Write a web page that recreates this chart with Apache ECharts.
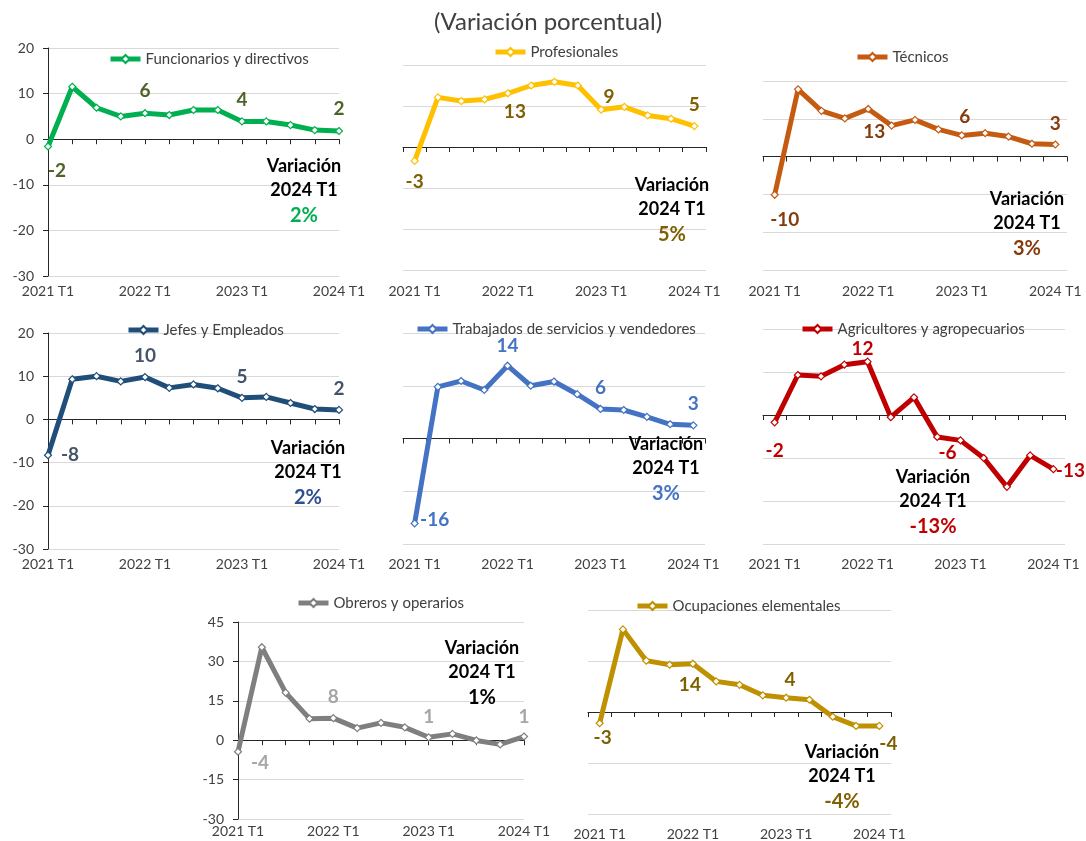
<!DOCTYPE html>
<html>
<head>
<meta charset="utf-8">
<title>Variación porcentual</title>
<script src="https://cdn.jsdelivr.net/npm/echarts@6/dist/echarts.min.js"></script>
<style>
  html, body { margin: 0; padding: 0; background: #fff; }
  #chart { width: 1086px; height: 841px; }
</style>
</head>
<body>
<div id="chart"></div>
<script>
// trimestres
const quarters = ['2021 T1', '2021 T2', '2021 T3', '2021 T4', '2022 T1', '2022 T2', '2022 T3',
  '2022 T4', '2023 T1', '2023 T2', '2023 T3', '2023 T4', '2024 T1'];

// variación porcentual por grupo ocupacional
const funcionarios = [-1.6, 11.5, 6.9, 5.0, 5.7, 5.3, 6.4, 6.4, 3.9, 3.9, 3.1, 2.0, 1.8];
const profesionales = [-3.4, 12.1, 11.2, 11.6, 13.1, 15.0, 15.9, 15.0, 9.1, 9.8, 7.7, 6.9, 5.1];
const tecnicos = [-10.1, 17.8, 12.1, 10.1, 12.6, 8.2, 9.7, 7.2, 5.6, 6.2, 5.3, 3.4, 3.2];
const jefes = [-8.3, 9.3, 10.0, 8.8, 9.8, 7.3, 8.1, 7.2, 5.0, 5.2, 3.8, 2.4, 2.2];
const servicios = [-16.1, 9.8, 10.9, 9.2, 13.8, 10.0, 10.8, 8.4, 5.6, 5.4, 4.1, 2.7, 2.5];
const agricultores = [-1.7, 9.3, 9.0, 11.7, 12.4, -0.5, 4.1, -5.1, -5.9, -10.0, -16.7, -9.4, -12.6];
const obreros = [-4.4, 35.4, 18.1, 8.2, 8.4, 4.6, 6.6, 4.9, 1.1, 2.4, -0.1, -1.6, 1.4];
const elementales = [-3.3, 24.3, 15.1, 13.9, 14.2, 9.0, 8.0, 4.9, 4.2, 3.6, -1.4, -4.1, -4.1];

// puntos con etiqueta (T1 de cada año)
const labelIdx = [0, 4, 8, 12];

const FONT = 'Lato, "Noto Sans", sans-serif';
const TEXT = '#404040';
const AXIS = '#262626';

// grid: [left, top, width, height], y: [min, max, interval]
const panels = [
  { name: 'Funcionarios y directivos', data: funcionarios, color: '#00B050', lbl: '#4F6228', pct: '#00B050',
    grid: [48, 48, 291, 228], y: [-30, 20, 10], axis: true, gap: false, xm: 8,
    legend: [108, 59], off: [[9, 24], [0, -22], [0, -22], [0, -22]], note: [304, 166] },
  { name: 'Profesionales', data: profesionales, color: '#FFC000', lbl: '#7F6000', pct: '#7F6000',
    grid: [403, 65, 303, 205], y: [-30, 20, 10], axis: false, gap: true, xm: 14,
    legend: [493, 52], off: [[0, 21], [7, 19], [8, -13], [0, -21]], note: [672, 185] },
  { name: 'Técnicos', data: tecnicos, color: '#C55A11', lbl: '#843C0C', pct: '#843C0C',
    grid: [763, 81, 304, 189], y: [-30, 20, 10], axis: false, gap: true, xm: 14,
    legend: [855, 57], off: [[10, 25], [6, 23], [3, -19], [0, -21]], note: [1027, 199] },
  { name: 'Jefes y Empleados', data: jefes, color: '#1F4E79', lbl: '#44546A', pct: '#2F4F8F',
    grid: [48, 333, 291, 216], y: [-30, 20, 10], axis: true, gap: false, xm: 8,
    legend: [126, 330], off: [[22, 0], [0, -21], [0, -21], [0, -21]], note: [308, 448] },
  { name: 'Trabajados de servicios y vendedores', data: servicios, color: '#4472C4', lbl: '#4472C4', pct: '#4472C4',
    grid: [403, 333, 302, 211], y: [-20, 20, 10], axis: false, gap: true, xm: 13,
    legend: [415, 329], off: [[20, -4], [0, -20], [0, -21], [0, -21]], note: [666, 444] },
  { name: 'Agricultores y agropecuarios', data: agricultores, color: '#C00000', lbl: '#C00000', pct: '#C00000',
    grid: [763, 329, 302, 215], y: [-30, 20, 10], axis: false, gap: true, xm: 13,
    legend: [800, 329], off: [[0, 29], [-5, -13], [-13, 13], [17, 2]], note: [933, 477] },
  { name: 'Obreros y operarios', data: obreros, color: '#7F7F7F', lbl: '#A6A6A6', pct: '#000000',
    grid: [238, 622, 286, 197], y: [-30, 45, 15], axis: true, gap: false, xm: 5,
    legend: [296, 603], off: [[22, 11], [0, -21], [0, -20], [0, -20]], note: [482, 648] },
  { name: 'Ocupaciones elementales', data: elementales, color: '#BF9000', lbl: '#7F6000', pct: '#7F6000',
    grid: [588, 610, 303, 204], y: [-30, 30, 15], axis: false, gap: true, xm: 13,
    legend: [635, 606], off: [[3, 15], [-3, 21], [4, -18], [9, 18]], note: [842, 752] }
];

const option = {
  animation: false,
  textStyle: { fontFamily: FONT },
  grid: [], xAxis: [], yAxis: [], series: [], legend: [],
  graphic: [{
    type: 'text', x: 548, y: 22, z: 10,
    style: { text: '(Variación porcentual)', fill: TEXT, font: 'normal 24px ' + FONT, align: 'center', verticalAlign: 'middle' }
  }]
};

panels.forEach((p, i) => {
  const [l, t, w, h] = p.grid;
  option.grid.push({ left: l, top: t, width: w, height: h, containLabel: false, outerBoundsMode: 'none' });

  // eje en cero: línea y marcas
  option.xAxis.push({
    gridIndex: i, type: 'category', data: quarters, boundaryGap: p.gap, position: 'bottom',
    axisLine: { show: true, onZero: true, lineStyle: { color: AXIS, width: 1 } },
    axisTick: { show: true, interval: 0, length: 5, lineStyle: { color: AXIS } },
    axisLabel: { show: false }, splitLine: { show: false }
  });
  // etiquetas abajo
  option.xAxis.push({
    gridIndex: i, type: 'category', data: quarters, boundaryGap: p.gap, position: 'bottom',
    axisLine: { show: false, onZero: false }, axisTick: { show: false },
    axisLabel: { show: true, interval: 3, margin: p.xm, fontSize: 14, color: TEXT, fontFamily: FONT },
    splitLine: { show: false }
  });
  option.yAxis.push({
    gridIndex: i, type: 'value', min: p.y[0], max: p.y[1], interval: p.y[2],
    axisLine: { show: p.axis, onZero: false, lineStyle: { color: AXIS } },
    axisTick: { show: p.axis, length: 5, lineStyle: { color: AXIS } },
    axisLabel: { show: p.axis, margin: 14, fontSize: 14, color: TEXT, fontFamily: FONT },
    splitLine: { show: true, lineStyle: { color: '#D9D9D9', width: 1 } }
  });

  option.series.push({
    name: p.name, type: 'line', xAxisIndex: 2 * i, yAxisIndex: i,
    data: p.data.map((v, k) => {
      const j = labelIdx.indexOf(k);
      return j < 0 ? v : { value: v, label: { show: true, offset: p.off[j] } };
    }),
    symbol: 'diamond', symbolSize: 7, showAllSymbol: true,
    lineStyle: { color: p.color, width: 5 },
    itemStyle: { color: '#fff', borderColor: p.color, borderWidth: 1.2 },
    label: {
      show: false, position: 'inside', align: 'center', verticalAlign: 'middle',
      fontSize: 19, fontWeight: 'bold', color: p.lbl, fontFamily: FONT,
      formatter: q => Math.round(q.value)
    },
    emphasis: { disabled: true }, z: 3
  });

  option.legend.push({
    data: [p.name], left: p.legend[0], top: p.legend[1] - 8, padding: 0,
    itemWidth: 30, itemHeight: 10, selectedMode: false,
    lineStyle: { width: 5 },
    textStyle: { fontSize: 15, color: TEXT, fontFamily: FONT, lineHeight: 16 }
  });

  // nota "Variación 2024 T1"
  const [nx, ny] = p.note;
  const last = p.data[p.data.length - 1];
  [['Variación', '#000', 18, 0], [quarters[quarters.length - 1], '#000', 18, 24],
   [Math.round(last) + '%', p.pct, 20, 50]].forEach(([txt, fill, fs, dy]) => {
    option.graphic.push({
      type: 'text', x: nx, y: ny + dy, z: 10,
      style: { text: txt, fill: fill, font: 'bold ' + fs + 'px ' + FONT, align: 'center', verticalAlign: 'middle' }
    });
  });
});

const chart = echarts.init(document.getElementById('chart'));
chart.setOption(option);
</script>
</body>
</html>
